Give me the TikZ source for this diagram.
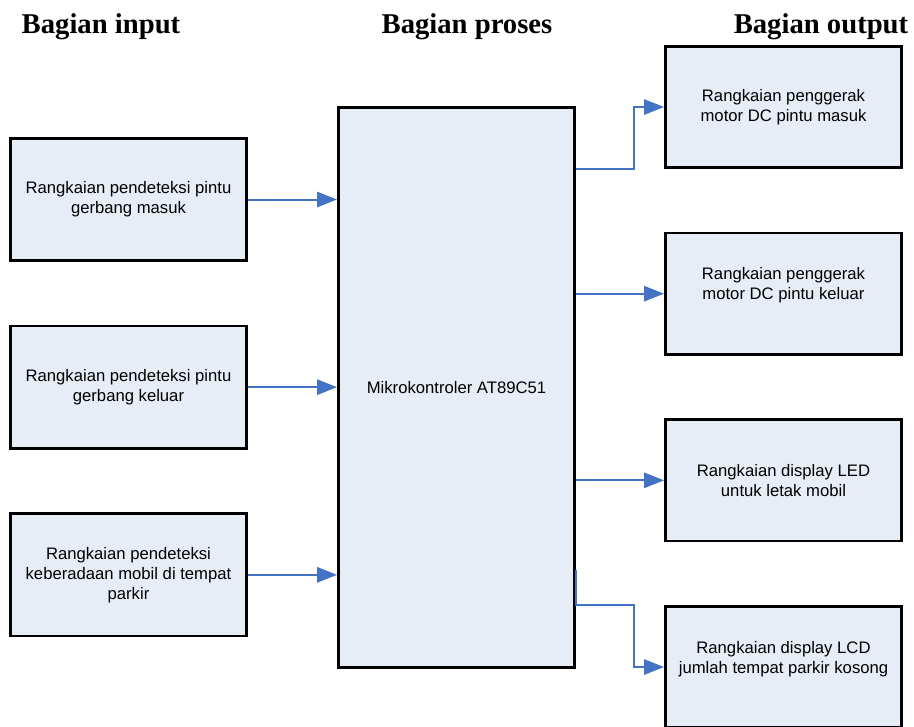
\documentclass[tikz,border=0pt]{standalone}
\usepackage{fontspec}
\setmainfont{Liberation Sans}
\newfontfamily\headfont{Liberation Serif}
\usetikzlibrary{positioning,arrows.meta}
\definecolor{boxfill}{RGB}{231,237,247}
\definecolor{flowblue}{RGB}{68,114,196}
\begin{document}
\begin{tikzpicture}[x=0.75pt,y=-0.75pt,node distance=47pt,
    block/.style={rectangle,draw,line width=2pt,fill=boxfill,minimum width=177.25pt,minimum height=91.75pt,inner sep=0pt,align=center,font=\fontsize{12.5pt}{15pt}\selectfont},
    head/.style={anchor=base,font=\headfont\bfseries\fontsize{21.5pt}{24pt}\selectfont},
    flow/.style={color=flowblue,line width=1.5pt,-{Triangle[length=15pt,width=11.5pt]}}]
    \useasboundingbox (0,0) rectangle (914,726);
    \node[head] (hin)  at (101,33) {Bagian input};
    \node[head] (hpro) at (467,33) {Bagian proses};
    \node[head] (hout) at (821,33) {Bagian output};
    \node[block] (in1) at (128.5,199.5) {Rangkaian pendeteksi pintu\\gerbang masuk};
    \node[block,below=of in1] (in2) {Rangkaian pendeteksi pintu\\gerbang keluar};
    \node[block,below=of in2] (in3) {Rangkaian pendeteksi\\keberadaan mobil di tempat\\parkir};
    \node[block,minimum height=420.25pt] (mcu) at (456.5,387.5) {Mikrokontroler AT89C51};
    \node[block,minimum height=91pt] (out1) at (783.5,107) {Rangkaian penggerak\\motor DC pintu masuk};
    \node[block,minimum height=91pt,below=of out1] (out2) {Rangkaian penggerak\\motor DC pintu keluar\\\mbox{}};
    \node[block,minimum height=91pt,below=of out2] (out3) {Rangkaian display LED\\untuk letak mobil};
    \node[block,minimum height=91pt,below=of out3] (out4) {Rangkaian display LCD\\jumlah tempat parkir kosong\\\mbox{}};
    \draw[flow] (in1.east) -- (in1.east -| mcu.west);
    \draw[flow] (in2.east) -- (in2.east -| mcu.west);
    \draw[flow] (in3.east) -- (in3.east -| mcu.west);
    \draw[flow] ([yshift=-47.25pt]mcu.north east) -| ([xshift=-22.5pt]out1.west) -- (out1.west);
    \draw[flow] (out2.west -| mcu.east) -- (out2.west);
    \draw[flow] (out3.west -| mcu.east) -- (out3.west);
    \draw[flow] ([yshift=74.25pt]mcu.south east) |- ([xshift=-22.5pt]out4.north west) |- (out4.west);
\end{tikzpicture}
\end{document}
